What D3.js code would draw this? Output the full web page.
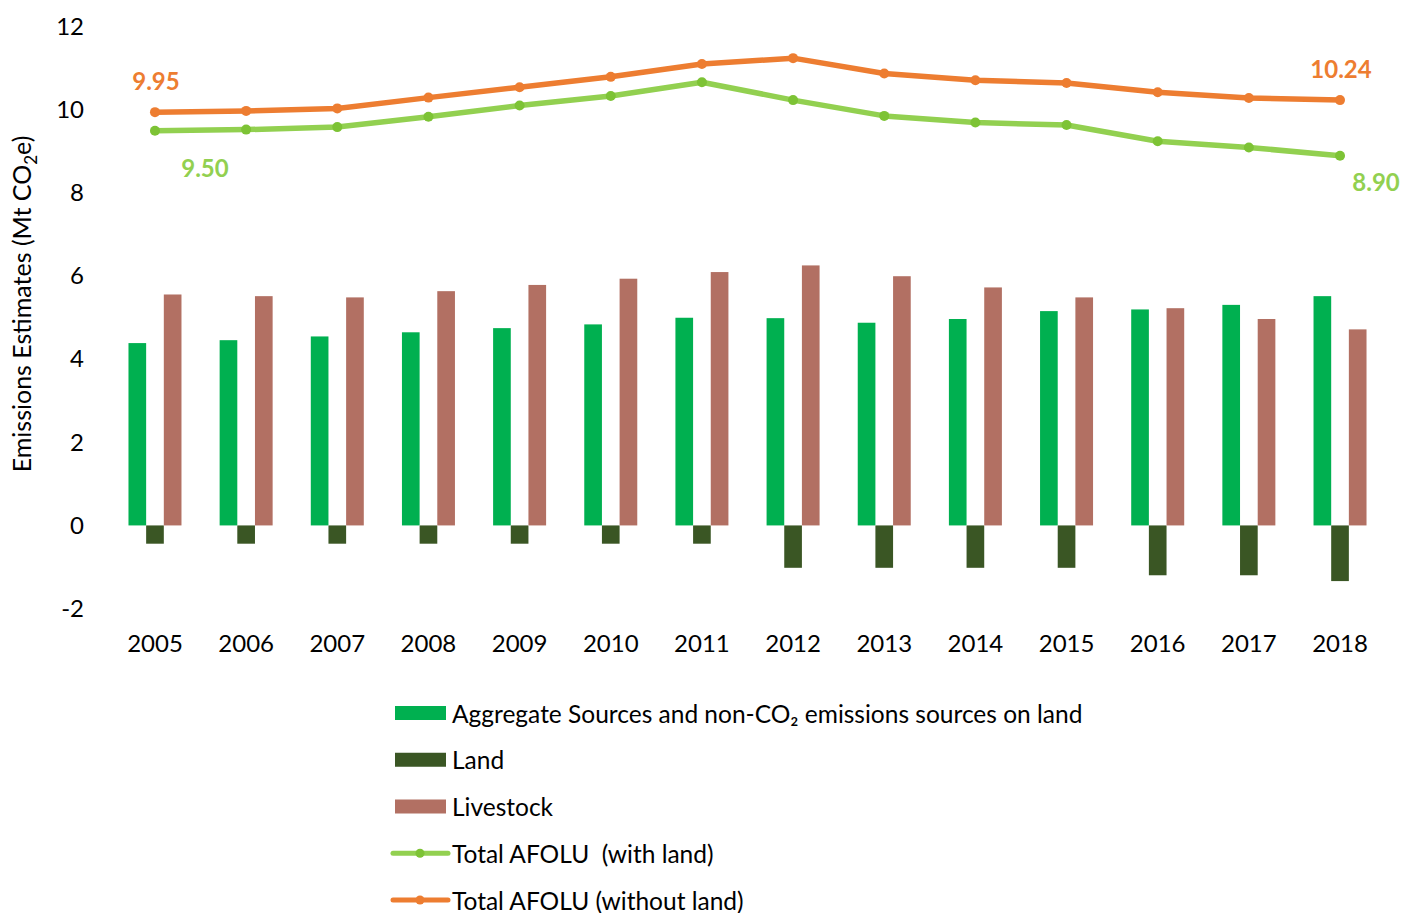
<!DOCTYPE html>
<html>
<head>
<meta charset="utf-8">
<script src="https://cdn.jsdelivr.net/npm/d3@7"></script>
<style>
  html, body { margin: 0; padding: 0; background: #fff; }
  svg { display: block; font-family: Lato, "Open Sans", sans-serif; }
</style>
</head>
<body>
<svg id="chart" width="1402" height="913"></svg>
<script>
// Emissions estimates by year (Mt CO2e)
const years = ["2005","2006","2007","2008","2009","2010","2011","2012","2013","2014","2015","2016","2017","2018"];
const aggregateSources = [4.39, 4.46, 4.55, 4.65, 4.75, 4.84, 5.00, 4.99, 4.88, 4.97, 5.16, 5.20, 5.31, 5.52];
const land = [-0.44, -0.44, -0.44, -0.44, -0.44, -0.44, -0.44, -1.02, -1.02, -1.02, -1.02, -1.20, -1.20, -1.34];
const livestock = [5.56, 5.52, 5.49, 5.64, 5.79, 5.94, 6.10, 6.26, 6.00, 5.73, 5.49, 5.23, 4.97, 4.72];
const totalWithLand = [9.50, 9.53, 9.59, 9.84, 10.11, 10.34, 10.67, 10.24, 9.86, 9.70, 9.64, 9.25, 9.10, 8.90];
const totalWithoutLand = [9.95, 9.98, 10.04, 10.30, 10.55, 10.80, 11.11, 11.25, 10.88, 10.72, 10.65, 10.43, 10.29, 10.24];
const yTicks = [-2, 0, 2, 4, 6, 8, 10, 12];

const colors = {
  aggregate: "#00B050",
  land: "#3A5624",
  livestock: "#B27063",
  withLand: "#92D050",
  withLandDot: "#7DC335",
  withoutLand: "#ED7D31",
  withoutLandDot: "#ED7D31"
};

const svg = d3.select("#chart");

const x = d3.scaleBand().domain(years).range([109.4, 1385.6]).paddingInner(0).paddingOuter(0);
const y = d3.scaleLinear().domain([-2, 12]).range([608.5, 27]);

const barSeries = [
  { key: "aggregate", values: aggregateSources, color: colors.aggregate },
  { key: "land", values: land, color: colors.land },
  { key: "livestock", values: livestock, color: colors.livestock }
];
const groupWidth = 53;
const inner = d3.scaleBand().domain(barSeries.map(s => s.key)).range([0, groupWidth]);

// Y axis tick labels
const yAxis = d3.axisLeft(y).tickValues(yTicks).tickSize(0).tickPadding(0).tickFormat(d3.format("d"));
svg.append("g")
  .attr("transform", "translate(84,0)")
  .call(yAxis)
  .call(g => g.select(".domain").remove())
  .call(g => g.selectAll("text")
    .attr("font-size", 24)
    .attr("font-family", "Lato, sans-serif")
    .attr("fill", "#000")
    .text(d => d < 0 ? "-" + Math.abs(d) : d));

// X axis labels
const xAxis = d3.axisBottom(x).tickSize(0).tickPadding(0);
svg.append("g")
  .attr("transform", "translate(0,635)")
  .call(xAxis)
  .call(g => g.select(".domain").remove())
  .call(g => g.selectAll("text")
    .attr("font-size", 24)
    .attr("font-family", "Lato, sans-serif")
    .attr("fill", "#000"));

// Y axis title
const yTitle = svg.append("text")
  .attr("transform", "translate(31,304) rotate(-90)")
  .attr("text-anchor", "middle")
  .attr("font-size", 25)
  .attr("fill", "#000");
yTitle.append("tspan").text("Emissions Estimates (Mt CO");
yTitle.append("tspan").attr("font-size", 17).attr("dy", 6).text("2");
yTitle.append("tspan").attr("dy", -6).text("e)");

// Bars
barSeries.forEach(s => {
  svg.append("g").selectAll("rect")
    .data(years.map((yr, i) => ({ yr, v: s.values[i] })))
    .join("rect")
    .attr("x", d => x(d.yr) + x.bandwidth() / 2 - groupWidth / 2 + inner(s.key))
    .attr("width", inner.bandwidth())
    .attr("y", d => y(Math.max(0, d.v)))
    .attr("height", d => Math.abs(y(d.v) - y(0)))
    .attr("fill", s.color);
});

// Lines
const lineSeries = [
  { values: totalWithLand, color: colors.withLand, dot: colors.withLandDot },
  { values: totalWithoutLand, color: colors.withoutLand, dot: colors.withoutLandDot }
];
const line = d3.line()
  .x((d, i) => x(years[i]) + x.bandwidth() / 2)
  .y(d => y(d));
lineSeries.forEach(s => {
  svg.append("path")
    .datum(s.values)
    .attr("d", line)
    .attr("fill", "none")
    .attr("stroke", s.color)
    .attr("stroke-width", 5.5)
    .attr("stroke-linejoin", "round");
  svg.append("g").selectAll("circle")
    .data(s.values)
    .join("circle")
    .attr("cx", (d, i) => x(years[i]) + x.bandwidth() / 2)
    .attr("cy", d => y(d))
    .attr("r", 5)
    .attr("fill", s.dot);
});

// End-point value labels
const last = years.length - 1;
const cx = i => x(years[i]) + x.bandwidth() / 2;
const valueLabels = [
  { text: totalWithoutLand[0].toFixed(2), i: 0, v: totalWithoutLand[0], dx: 1, dy: -32, color: colors.withoutLand },
  { text: totalWithLand[0].toFixed(2), i: 0, v: totalWithLand[0], dx: 50, dy: 37, color: colors.withLand },
  { text: totalWithoutLand[last].toFixed(2), i: last, v: totalWithoutLand[last], dx: 1, dy: -32, color: colors.withoutLand },
  { text: totalWithLand[last].toFixed(2), i: last, v: totalWithLand[last], dx: 36, dy: 26, color: colors.withLand }
];
svg.append("g").selectAll("text")
  .data(valueLabels)
  .join("text")
  .attr("x", d => cx(d.i) + d.dx)
  .attr("y", d => y(d.v) + d.dy)
  .attr("text-anchor", "middle")
  .attr("dominant-baseline", "central")
  .attr("font-size", 24)
  .attr("font-weight", 700)
  .attr("fill", d => d.color)
  .text(d => d.text);

// Legend
const legendItems = [
  { label: "Aggregate Sources and non-CO\u2082 emissions sources on land", type: "rect", color: colors.aggregate },
  { label: "Land", type: "rect", color: colors.land },
  { label: "Livestock", type: "rect", color: colors.livestock },
  { label: "Total AFOLU\u00A0 (with land)", type: "line", color: colors.withLand, dot: colors.withLandDot },
  { label: "Total AFOLU (without land)", type: "line", color: colors.withoutLand, dot: colors.withoutLandDot }
];
const legendY = d3.scalePoint().domain(d3.range(legendItems.length)).range([713, 900]);
const lg = svg.append("g").selectAll("g")
  .data(legendItems)
  .join("g")
  .attr("transform", (d, i) => `translate(0,${legendY(i)})`);
lg.filter(d => d.type === "rect").append("rect")
  .attr("x", 395).attr("y", -7).attr("width", 51).attr("height", 14)
  .attr("fill", d => d.color);
lg.filter(d => d.type === "line").append("line")
  .attr("x1", 393).attr("x2", 448).attr("y1", 0).attr("y2", 0)
  .attr("stroke", d => d.color).attr("stroke-width", 5).attr("stroke-linecap", "round");
lg.filter(d => d.type === "line").append("circle")
  .attr("cx", 420).attr("cy", 0).attr("r", 4.5)
  .attr("fill", d => d.dot);
lg.append("text")
  .attr("x", 452).attr("y", 0)
  .attr("dominant-baseline", "central")
  .attr("font-size", 24.5)
  .attr("fill", "#000")
  .text(d => d.label);
</script>
</body>
</html>
